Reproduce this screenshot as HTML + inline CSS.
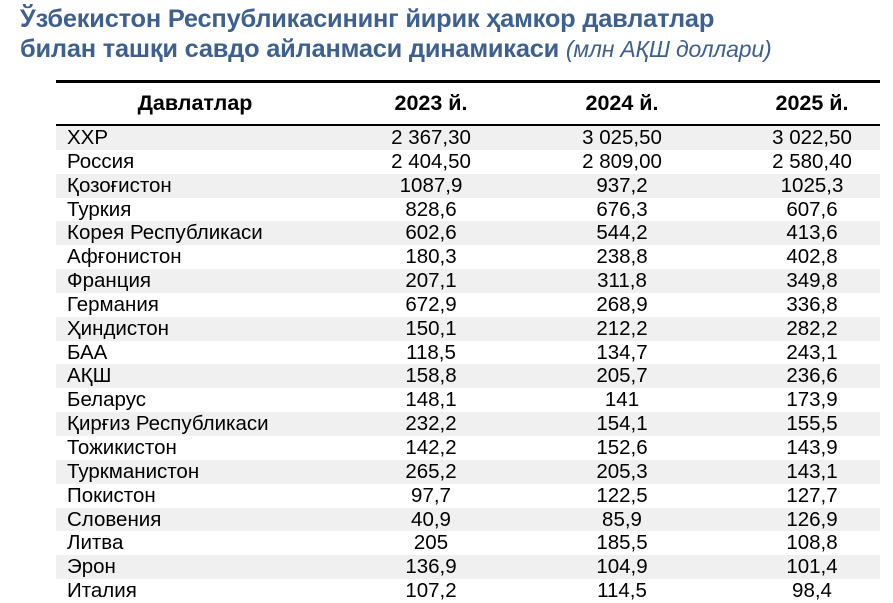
<!DOCTYPE html>
<html><head><meta charset="utf-8"><style>
html,body{margin:0;padding:0;background:#fff;width:893px;height:603px;overflow:hidden;font-family:"Liberation Sans",sans-serif}
.t{position:absolute;left:20px;color:#3d6090;font-weight:bold;font-size:25.4px;white-space:nowrap;letter-spacing:-0.2px}
.t i{font-weight:normal;font-size:23px}
#tbl{position:absolute;left:56px;top:80px;width:824px}
.top{height:3px;background:#000}
.hdr{height:41px;position:relative;font-weight:bold;font-size:21.5px;border-bottom:2px solid #000}
.hdr div,.row div{position:absolute;top:0;white-space:nowrap;transform:translateX(-50%)}
.hdr div{line-height:41px}
.row{height:23.85px;position:relative;font-size:20.5px;color:#000}
.row:nth-child(odd){background:#f0f0f0}
.row div{line-height:23.85px}
.row div.n{left:11px;transform:none}
</style></head><body>
<div class="t" style="top:5px">Ўзбекистон Республикасининг йирик ҳамкор давлатлар</div>
<div class="t" style="top:35px">билан ташқи савдо айланмаси динамикаси <i>(млн АҚШ доллари)</i></div>
<div id="tbl">
<div class="top"></div>
<div class="hdr">
<div style="left:139px">Давлатлар</div>
<div style="left:375px">2023 й.</div>
<div style="left:566px">2024 й.</div>
<div style="left:756px">2025 й.</div>
</div>
<div id="body"></div>
</div>
<script>
const countries=["ХХР","Россия","Қозоғистон","Туркия","Корея Республикаси","Афғонистон","Франция","Германия","Ҳиндистон","БАА","АҚШ","Беларус","Қирғиз Республикаси","Тожикистон","Туркманистон","Покистон","Словения","Литва","Эрон","Италия"];
const v2023=["2 367,30","2 404,50","1087,9","828,6","602,6","180,3","207,1","672,9","150,1","118,5","158,8","148,1","232,2","142,2","265,2","97,7","40,9","205","136,9","107,2"];
const v2024=["3 025,50","2 809,00","937,2","676,3","544,2","238,8","311,8","268,9","212,2","134,7","205,7","141","154,1","152,6","205,3","122,5","85,9","185,5","104,9","114,5"];
const v2025=["3 022,50","2 580,40","1025,3","607,6","413,6","402,8","349,8","336,8","282,2","243,1","236,6","173,9","155,5","143,9","143,1","127,7","126,9","108,8","101,4","98,4"];
const body=document.getElementById('body');
countries.forEach((c,i)=>{
  const r=document.createElement('div');r.className='row';
  
  
  const cells=[[c,'n',null],[v2023[i],'',375],[v2024[i],'',566],[v2025[i],'',756]];
  cells.forEach((cd,j)=>{
    const d=document.createElement('div');d.textContent=cd[0];
    if(cd[1])d.className=cd[1];else d.style.left=cd[2]+'px';
    
    
    r.appendChild(d);
  });
  body.appendChild(r);
});
</script>
</body></html>
